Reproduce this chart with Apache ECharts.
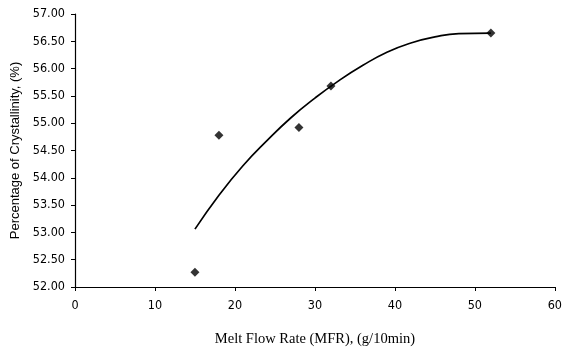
<!DOCTYPE html>
<html>
<head>
<meta charset="utf-8">
<script src="https://cdn.jsdelivr.net/npm/echarts@6/dist/echarts.min.js"></script>
<style>
  html, body { margin: 0; padding: 0; background: #fff; }
  #chart { width: 565px; height: 352px; }
</style>
</head>
<body>
<div id="chart"></div>
<script>
// measured points: melt flow rate vs crystallinity
const mfr = [15, 18, 28, 32, 52];
const crystallinity = [52.27, 54.78, 54.92, 55.68, 56.65];

// trend curve
const trendX = [15, 18, 21, 24, 27, 30, 33, 36, 39, 42, 45, 48, 52];
const trendY = [53.06, 53.68, 54.22, 54.68, 55.1, 55.46, 55.78, 56.06, 56.3, 56.47, 56.58, 56.64, 56.65];

const tickFont = "'Liberation Sans Narrow', 'DejaVu Sans Condensed', sans-serif";

const chart = echarts.init(document.getElementById("chart"));
chart.setOption({
  animation: false,
  grid: { left: 75, right: 6, top: 14, bottom: 64 },
  xAxis: {
    type: "value",
    min: 0,
    max: 60,
    interval: 10,
    name: "Melt Flow Rate (MFR), (g/10min)",
    nameLocation: "middle",
    nameGap: 45,
    nameTextStyle: { color: "#000", fontSize: 14.5, fontFamily: "'Liberation Serif', serif" },
    axisLine: { lineStyle: { color: "#000", width: 1.2 } },
    axisTick: { show: true, length: 4, lineStyle: { color: "#000" } },
    axisLabel: { color: "#000", fontSize: 12.5, margin: 12, fontFamily: tickFont },
    splitLine: { show: false },
  },
  yAxis: {
    type: "value",
    min: 52,
    max: 57,
    interval: 0.5,
    name: "Percentage of Crystallinity, (%)",
    nameLocation: "middle",
    nameGap: 52,
    nameTextStyle: { color: "#000", fontSize: 13, fontFamily: "'Liberation Sans', sans-serif" },
    axisLine: { show: true, lineStyle: { color: "#000", width: 1.2 } },
    axisTick: { show: true, length: 4, lineStyle: { color: "#000" } },
    axisLabel: {
      color: "#000",
      fontSize: 12.5,
      margin: 10,
      fontFamily: tickFont,
      formatter: (v) => v.toFixed(2),
    },
    splitLine: { show: false },
  },
  series: [
    {
      name: "Trend",
      type: "line",
      smooth: true,
      showSymbol: false,
      lineStyle: { color: "#000", width: 1.7 },
      data: trendX.map((x, i) => [x, trendY[i]]),
      z: 2,
    },
    {
      name: "Crystallinity",
      type: "scatter",
      symbol: "diamond",
      symbolSize: 9,
      itemStyle: { color: "#000" },
      data: mfr.map((x, i) => [x, crystallinity[i]]),
      z: 3,
    },
  ],
});
</script>
</body>
</html>
